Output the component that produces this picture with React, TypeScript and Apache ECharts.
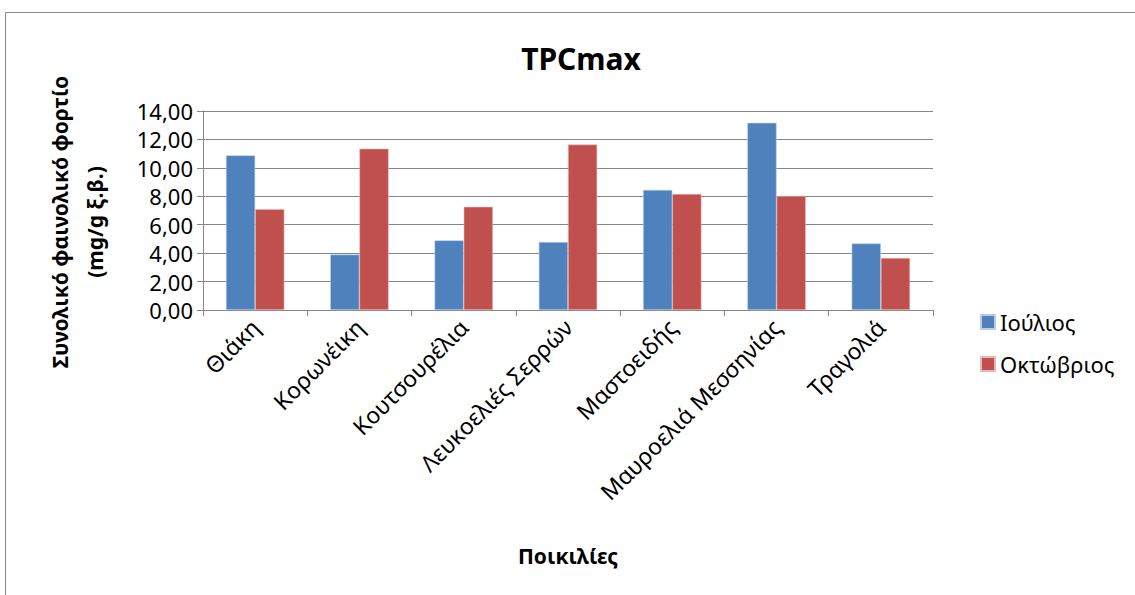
import React, { useEffect, useRef } from "react";
import * as echarts from "echarts";

const categories = [
  "Θιάκη",
  "Κορωνέικη",
  "Κουτσουρέλια",
  "Λευκοελιές Σερρών",
  "Μαστοειδής",
  "Μαυροελιά Μεσσηνίας",
  "Τραγολιά",
];
const july = [10.88, 3.9, 4.9, 4.78, 8.45, 13.17, 4.68];
const october = [7.1, 11.35, 7.26, 11.64, 8.16, 8.02, 3.66];
const seriesNames = ["Ιούλιος", "Οκτώβριος"];
const chartTitle = "TPCmax";
const yTitle = "Συνολικό φαινολικό φορτίο\n(mg/g ξ.β.)";
const xTitle = "Ποικιλίες";

const FONT = "'Noto Sans', 'Open Sans', sans-serif";

export default function App() {
  const ref = useRef<HTMLDivElement>(null);
  useEffect(() => {
    document.body.style.margin = "0";
    const chart = echarts.init(ref.current!, null, { renderer: "svg" });
    chart.setOption({
      animation: false,
      backgroundColor: "#ffffff",
      textStyle: { fontFamily: FONT },
      title: {
        text: chartTitle,
        left: 576,
        top: 38,
        textAlign: "center",
        textStyle: { fontFamily: FONT, fontSize: 30, fontWeight: "bold", color: "#000" },
      },
      legend: {
        orient: "vertical",
        left: 975,
        top: 306,
        itemWidth: 14,
        itemHeight: 14,
        itemGap: 20,
        icon: "rect",
        textStyle: { fontFamily: FONT, fontSize: 22, color: "#000" },
        data: seriesNames,
      },
      grid: { left: 203, right: 202, top: 111, bottom: 285 },
      graphic: [
        {
          type: "rect",
          silent: true,
          shape: { x: 5.5, y: 12.5, width: 1140, height: 600 },
          style: { fill: "none", stroke: "#8c8c8c", lineWidth: 1 },
        },
        {
          type: "text",
          x: 77,
          y: 222,
          rotation: Math.PI / 2,
          style: {
            text: yTitle,
            fontFamily: FONT,
            fontSize: 21,
            fontWeight: "bold",
            fill: "#000",
            align: "center",
            verticalAlign: "middle",
            lineHeight: 35,
          },
        },
        {
          type: "text",
          x: 568,
          y: 556,
          style: {
            text: xTitle,
            fontFamily: FONT,
            fontSize: 21,
            fontWeight: "bold",
            fill: "#000",
            align: "center",
            verticalAlign: "middle",
          },
        },
      ],
      xAxis: {
        type: "category",
        data: categories,
        boundaryGap: true,
        axisLine: { show: true, lineStyle: { color: "#868686", width: 1 } },
        axisTick: { show: true, alignWithLabel: false, length: 6, lineStyle: { color: "#868686" } },
        axisLabel: {
          rotate: 45,
          interval: 0,
          margin: 13,
          fontFamily: FONT,
          fontSize: 23,
          color: "#000",
        },
      },
      yAxis: {
        type: "value",
        min: 0,
        max: 14,
        interval: 2,
        axisLine: { show: true, lineStyle: { color: "#868686", width: 1 } },
        axisTick: { show: true, length: 6, lineStyle: { color: "#868686" } },
        splitLine: { show: true, lineStyle: { color: "#868686", width: 1 } },
        axisLabel: {
          margin: 10,
          fontFamily: FONT,
          fontSize: 22,
          color: "#000",
          formatter: (v: number) => v.toFixed(2).replace(".", ","),
        },
      },
      series: [
        {
          name: seriesNames[0],
          type: "bar",
          data: july,
          barGap: "0%",
          barCategoryGap: "44%",
          itemStyle: { color: "#4F81BD", borderColor: "#b9cde5", borderWidth: 0.6 },
        },
        {
          name: seriesNames[1],
          type: "bar",
          data: october,
          barGap: "0%",
          barCategoryGap: "44%",
          itemStyle: { color: "#C0504D", borderColor: "#e6b9b8", borderWidth: 0.6 },
        },
      ],
    });
    return () => chart.dispose();
  }, []);
  return <div ref={ref} style={{ width: 1135, height: 595 }} />;
}
